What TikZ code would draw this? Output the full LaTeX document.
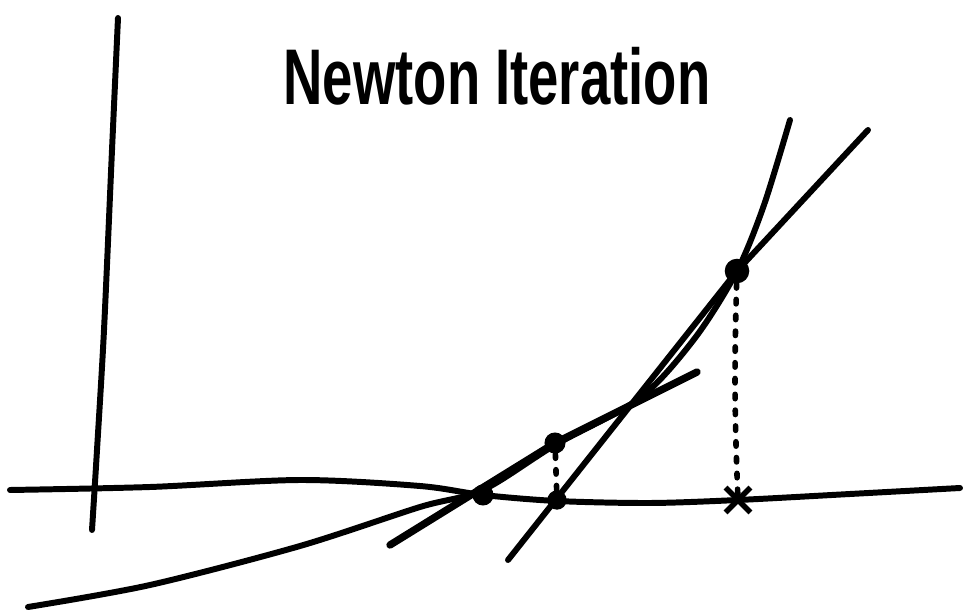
\documentclass[tikz,border=0pt]{standalone}
\usepackage{fontspec}
\setmainfont{Liberation Sans}
\usetikzlibrary{shapes.misc}
\tikzset{
  pen/.style={line width=3.4pt, line cap=round, line join=round, black},
  heavypen/.style={line width=4.2pt, line cap=round, line join=round, black},
  guide/.style={line width=3.2pt, line cap=round, dash pattern=on 2.5pt off 6.5pt, black},
  blob/.style={circle, fill=black, inner sep=0pt, minimum size=#1},
  blob/.default=11pt,
  xmark/.style={cross out, draw=black, line width=3.2pt, minimum size=11pt, inner sep=0pt},
  title/.style={font=\bfseries\fontsize{31}{38}\selectfont, inner sep=0pt},
}

\begin{document}
\begin{tikzpicture}[x=0.02cm, y=-0.02cm]
  \useasboundingbox (0,0) rectangle (965,615);

  % --- Title ---
  \node[title] (heading) at (497,76) {\scalebox{1}[1.45]{Newton Iteration}};

  % --- Axes ---
  \draw[pen] plot[smooth] coordinates {(118,18) (112,150) (104,330) (97,450) (92,530)};
  \draw[pen] plot[smooth] coordinates {(10,490) (150,487) (300,480) (420,486) (483,495)
    (557,501) (650,503) (738,500) (850,494) (960,488)};

  % --- Function ---
  \draw[pen] plot[smooth] coordinates {(28,607) (150,585) (300,546) (420,507) (483,490)
    (555,445) (640,398) (695,338) (737,271) (764,205) (790,120)};

  % --- Iterates ---
  \node[blob=14pt] (x0dot) at (737,271) {};
  \node[xmark] (x0mark) at (738,500) {};
  \node[blob=11pt] (x1axis) at (557,500) {};
  \node[blob=12pt] (x1dot) at (555,443) {};
  \node[blob=12pt] (rootdot) at (483,495) {};

  \coordinate (t1start) at (508,560);
  \coordinate (t1end) at (868,130);
  \coordinate (t2start) at (390,545);
  \coordinate (t2end) at (697,372);

  % --- Tangents ---
  \draw[pen] (t1start) -- (x0dot.center) -- (t1end);
  \draw[heavypen] (t2start) -- (x1dot.center) -- (t2end);

  % --- Drop lines ---
  \draw[guide] (x0dot) to[bend right=2] (x0mark.center);
  \draw[guide] (x1dot) -- (x1axis);

\end{tikzpicture}
\end{document}
